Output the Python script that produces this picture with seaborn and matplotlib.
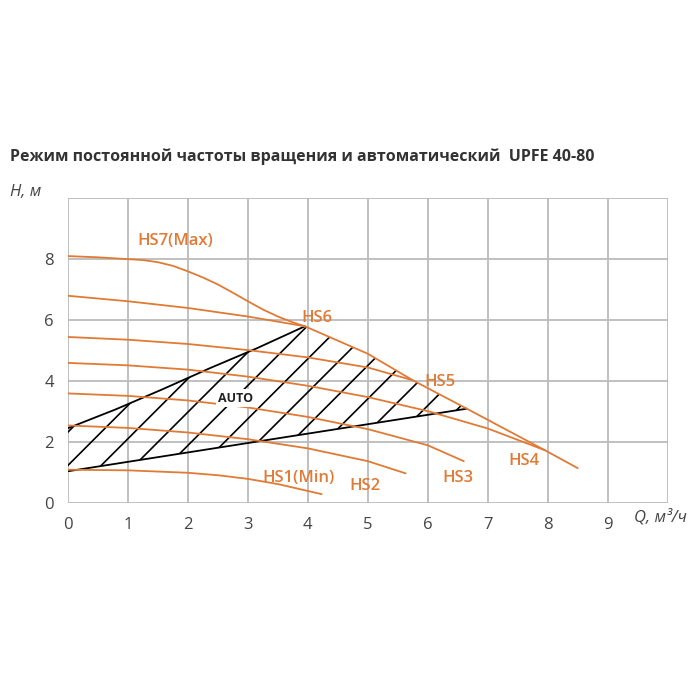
import numpy as np
import pandas as pd
import seaborn as sns
import matplotlib.pyplot as plt

# кривые насоса UPFE 40-80 (Q, м3/ч ; H, м)
hs7_q = [0, 0.5, 1.0, 1.25, 1.5, 1.75, 2.0, 2.25, 2.5, 2.75, 3.0, 3.25, 3.5, 3.75, 3.95,
         5.0, 5.75, 6.65, 7.95, 8.5]
hs7_h = [8.1, 8.06, 8.0, 7.97, 7.9, 7.78, 7.6, 7.4, 7.17, 6.9, 6.62, 6.35, 6.12, 5.93, 5.8,
         4.9, 4.03, 3.1, 1.74, 1.15]
hs6_q = [0, 1, 2, 3, 3.95]
hs6_h = [6.8, 6.62, 6.4, 6.12, 5.8]
hs5_q = [0, 1, 2, 3, 4, 5, 5.75]
hs5_h = [5.45, 5.36, 5.22, 5.02, 4.78, 4.45, 4.03]
hs4_q = [0, 1, 2, 3, 4, 5, 6, 7, 7.95]
hs4_h = [4.6, 4.52, 4.38, 4.15, 3.85, 3.48, 3.02, 2.45, 1.74]
hs3_q = [0, 1, 2, 3, 4, 5, 6, 6.6]
hs3_h = [3.6, 3.52, 3.37, 3.14, 2.83, 2.43, 1.9, 1.38]
hs2_q = [0, 1, 2, 3, 4, 5, 5.63]
hs2_h = [2.55, 2.47, 2.32, 2.1, 1.8, 1.38, 0.98]
hs1_q = [0, 1, 2, 2.5, 3, 3.5, 4.23]
hs1_h = [1.1, 1.08, 1.0, 0.92, 0.8, 0.63, 0.3]

# зона AUTO
auto_top_q = [0, 0.8, 1.57, 2.37, 3.15, 3.95]
auto_top_h = [2.46, 3.08, 3.73, 4.43, 5.08, 5.8]
auto_low_q = [0, 6.65]
auto_low_h = [1.05, 3.1]

curves = {'HS7': (hs7_q, hs7_h), 'HS6': (hs6_q, hs6_h), 'HS5': (hs5_q, hs5_h),
          'HS4': (hs4_q, hs4_h), 'HS3': (hs3_q, hs3_h), 'HS2': (hs2_q, hs2_h),
          'HS1': (hs1_q, hs1_h)}
labels = [('HS7(Max)', 1.15, 8.45), ('HS6', 3.9, 5.95), ('HS5', 5.95, 3.85),
          ('HS4', 7.35, 1.25), ('HS3', 6.25, 0.7), ('HS2', 4.7, 0.45),
          ('HS1(Min)', 3.25, 0.7)]

orange = '#e07a35'
sns.set_theme(style='white')
plt.rcParams['font.family'] = ['Open Sans', 'DejaVu Sans']

fig = plt.figure(figsize=(7, 7), dpi=100)
ax = fig.add_axes([0.097, 0.281, 0.857, 0.436])

rows = []
for name, (q, h) in curves.items():
    for a, b in zip(q, h):
        rows.append((name, a, b))
df = pd.DataFrame(rows, columns=['curve', 'Q', 'H'])
sns.lineplot(data=df, x='Q', y='H', units='curve', estimator=None, sort=False,
             color=orange, lw=1.3, ax=ax, zorder=3)

# полигон AUTO: верхняя граница, участок HS7, нижняя граница
poly_q = auto_top_q + [q for q in hs7_q if 3.95 < q <= 6.65] + auto_low_q[::-1]
poly_h = auto_top_h + [h for q, h in zip(hs7_q, hs7_h) if 3.95 < q <= 6.65] + auto_low_h[::-1]
plt.rcParams['hatch.linewidth'] = 1.2
ax.fill(poly_q, poly_h, facecolor='none', edgecolor='black', hatch='/', lw=0, zorder=2)
ax.plot(auto_top_q, auto_top_h, color='black', lw=1.3, zorder=2)
ax.plot(auto_low_q, auto_low_h, color='black', lw=1.3, zorder=2)
ax.text(2.8, 3.45, 'AUTO', fontsize=9, fontweight='bold', ha='center', va='center',
        color='#222222', zorder=4, bbox=dict(fc='white', ec='none', pad=2))

for txt, x, y in labels:
    ax.text(x, y, txt, color=orange, fontsize=12, fontweight='semibold', zorder=4)

ax.set_xlim(0, 10)
ax.set_ylim(0, 10)
ax.set_xticks(range(0, 11))
ax.set_xticklabels([str(i) for i in range(10)] + [''])
ax.set_yticks([0, 2, 4, 6, 8, 10])
ax.set_yticklabels(['0', '2', '4', '6', '8', ''])
ax.grid(True, which='major', color='#bbbbbb', lw=1.3, zorder=0)
ax.tick_params(axis='both', which='both', length=0, labelsize=12, colors='#444444', pad=10)
for s in ax.spines.values():
    s.set_visible(False)
ax.set_xlabel('')
ax.set_ylabel('')

fig.text(0.015, 0.77, 'Режим постоянной частоты вращения и автоматический  UPFE 40-80',
         fontsize=11.5, fontweight='bold', color='#333333')
fig.text(0.015, 0.72, 'H, м', fontsize=12, style='italic', color='#444444')
fig.text(0.905, 0.255, 'Q, м³/ч', fontsize=12, style='italic', color='#444444')

fig.savefig('out.png', dpi=100)
